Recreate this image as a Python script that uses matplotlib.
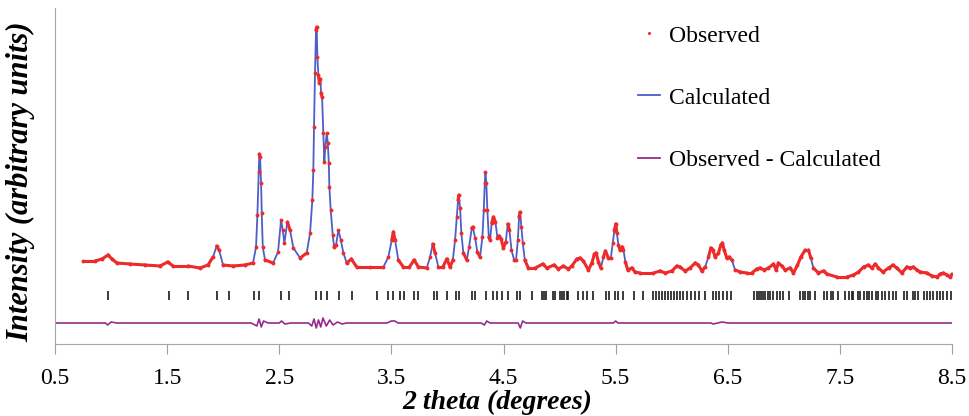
import numpy as np
import matplotlib.pyplot as plt
from matplotlib.collections import LineCollection
from matplotlib.lines import Line2D

plt.rcParams['font.family'] = ['Liberation Serif', 'DejaVu Serif']

# observed pattern, 2theta in degrees
obs_2theta = [
    0.752, 0.857, 0.919, 0.973, 1.008, 1.053, 1.169, 1.303, 1.437, 1.505,
    1.553, 1.686, 1.793, 1.865, 1.909, 1.942, 1.963, 1.999, 2.088, 2.195,
    2.266, 2.293, 2.305, 2.317, 2.322, 2.329, 2.338, 2.344, 2.353, 2.373,
    2.445, 2.489, 2.516, 2.531, 2.546, 2.572, 2.596, 2.626, 2.686, 2.745,
    2.775, 2.795, 2.804, 2.810, 2.819, 2.828, 2.834, 2.840, 2.849, 2.858,
    2.867, 2.873, 2.882, 2.893, 2.902, 2.911, 2.924, 2.933, 2.942, 2.947,
    2.959, 2.977, 2.989, 3.007, 3.027, 3.049, 3.072, 3.102, 3.143, 3.191,
    3.310, 3.429, 3.473, 3.504, 3.518, 3.533, 3.562, 3.607, 3.661, 3.703,
    3.741, 3.816, 3.845, 3.869, 3.890, 3.919, 3.959, 3.994, 4.024, 4.048,
    4.068, 4.083, 4.095, 4.101, 4.113, 4.124, 4.142, 4.173, 4.193, 4.217,
    4.226, 4.247, 4.267, 4.291, 4.312, 4.324, 4.333, 4.339, 4.347, 4.356,
    4.369, 4.380, 4.395, 4.410, 4.428, 4.446, 4.461, 4.479, 4.499, 4.520,
    4.538, 4.553, 4.571, 4.595, 4.612, 4.628, 4.639, 4.648, 4.660, 4.672,
    4.690, 4.722, 4.782, 4.851, 4.886, 4.951, 4.990, 5.034, 5.079, 5.109,
    5.154, 5.183, 5.213, 5.257, 5.288, 5.311, 5.326, 5.347, 5.368, 5.391,
    5.409, 5.436, 5.457, 5.475, 5.489, 5.502, 5.511, 5.525, 5.540, 5.558,
    5.570, 5.587, 5.609, 5.644, 5.674, 5.719, 5.837, 5.897, 5.942, 6.001,
    6.046, 6.075, 6.120, 6.164, 6.209, 6.239, 6.269, 6.298, 6.328, 6.349,
    6.367, 6.388, 6.417, 6.438, 6.453, 6.468, 6.492, 6.515, 6.536, 6.566,
    6.611, 6.670, 6.715, 6.759, 6.789, 6.825, 6.863, 6.908, 6.932, 6.952,
    6.982, 7.012, 7.057, 7.086, 7.122, 7.152, 7.190, 7.220, 7.241, 7.264,
    7.309, 7.354, 7.384, 7.473, 7.562, 7.621, 7.666, 7.711, 7.755, 7.786,
    7.815, 7.844, 7.884, 7.934, 7.973, 8.008, 8.053, 8.097, 8.127, 8.156,
    8.187, 8.216, 8.276, 8.321, 8.365, 8.395, 8.424, 8.454, 8.484, 8.500,
]
obs_intensity = [
    83, 83, 85, 89, 85, 81, 80, 79, 78, 82,
    78, 78, 76, 79, 87, 98, 94, 79, 78, 79,
    81, 97, 129, 172, 190, 187, 161, 131, 97, 84,
    81, 92, 124, 114, 101, 122, 114, 96, 86, 91,
    111, 144, 174, 217, 271, 314, 317, 287, 269, 261,
    265, 251, 247, 211, 182, 197, 211, 201, 181, 157,
    134, 109, 97, 99, 114, 104, 91, 81, 85, 77,
    77, 77, 87, 104, 112, 104, 84, 77, 77, 84,
    77, 76, 87, 100, 91, 77, 77, 85, 77, 84,
    104, 127, 144, 149, 136, 111, 91, 84, 97, 116,
    117, 106, 92, 87, 107, 134, 161, 172, 161, 134,
    107, 104, 121, 127, 122, 106, 108, 105, 96, 102,
    120, 114, 94, 84, 84, 104, 127, 132, 117, 101,
    84, 76, 76, 80, 76, 79, 75, 78, 75, 78,
    85, 86, 83, 74, 81, 90, 91, 82, 76, 87,
    93, 86, 86, 101, 114, 120, 111, 99, 94, 97,
    94, 82, 74, 76, 72, 71, 71, 73, 71, 73,
    78, 77, 73, 76, 81, 79, 73, 77, 87, 96,
    94, 87, 91, 99, 101, 94, 86, 87, 84, 74,
    72, 71, 71, 75, 76, 74, 76, 80, 74, 81,
    78, 74, 76, 71, 79, 87, 94, 94, 86, 76,
    71, 73, 70, 67, 67, 69, 72, 77, 79, 76,
    80, 76, 72, 76, 79, 76, 71, 77, 76, 77,
    74, 72, 71, 68, 67, 70, 71, 69, 67, 70,
]
# calculated profile overlays the observed one within the line width
calc_intensity = obs_intensity

# observed - calculated
diff_2theta = [0.5, 0.95, 0.97, 1.00, 1.05, 2.25, 2.30, 2.32, 2.34, 2.36,
               2.40, 2.50, 2.52, 2.55, 2.60, 2.76, 2.79, 2.81, 2.83, 2.85,
               2.87, 2.89, 2.92, 2.95, 2.98, 3.02, 3.06, 3.10, 3.46, 3.50,
               3.53, 3.56, 4.30, 4.33, 4.35, 4.38, 4.63, 4.65, 4.67, 4.70,
               5.48, 5.50, 5.52, 6.35, 6.37, 6.45, 6.50, 8.50]
diff_intensity = [0, 0, -2, 1, 0, 0, -3, 4, -4, 2,
                  0, 0, 2, -1, 0, 0, -3, 4, -5, 3,
                  -4, 5, -3, 3, -2, 1, -1, 0, 0, 2,
                  2, 0, 0, -2, 2, 0, 0, -5, 2, 0,
                  0, 2, 0, 0, -1, 1, 0, 0]

# reflection positions
refl_2theta = [
    0.970, 1.520, 1.686, 1.945, 2.055, 2.275, 2.320, 2.513, 2.585, 2.828,
    2.870, 2.924, 3.036, 3.147, 3.375, 3.473, 3.518, 3.578, 3.616, 3.703,
    3.741, 3.881, 3.910, 4.000, 4.077, 4.107, 4.217, 4.247, 4.345, 4.405,
    4.440, 4.485, 4.544, 4.619, 4.648, 4.752, 4.847, 4.865, 4.880, 4.940,
    4.960, 5.005, 5.023, 5.041, 5.063, 5.079, 5.168, 5.207, 5.243, 5.302,
    5.415, 5.445, 5.496, 5.525, 5.570, 5.665, 5.748, 5.834, 5.861, 5.888,
    5.915, 5.942, 5.968, 5.995, 6.022, 6.049, 6.075, 6.100, 6.135, 6.171,
    6.209, 6.248, 6.298, 6.367, 6.397, 6.426, 6.456, 6.492, 6.530, 6.738,
    6.762, 6.780, 6.798, 6.816, 6.834, 6.863, 6.878, 6.908, 6.938, 6.967,
    6.997, 7.050, 7.146, 7.168, 7.190, 7.213, 7.235, 7.280, 7.354, 7.384,
    7.420, 7.443, 7.482, 7.547, 7.577, 7.607, 7.621, 7.666, 7.681, 7.717,
    7.741, 7.764, 7.785, 7.824, 7.844, 7.875, 7.904, 7.934, 7.978, 8.002,
    8.073, 8.103, 8.151, 8.172, 8.201, 8.246, 8.276, 8.305, 8.335, 8.365,
    8.395, 8.424, 8.454, 8.490,
]

x_ticks = [0.5, 1.5, 2.5, 3.5, 4.5, 5.5, 6.5, 7.5, 8.5]

red = '#ee2b2b'
blue = '#4d5fc8'
purple = '#962a8e'

fig = plt.figure(figsize=(9.69, 4.16), dpi=100)
ax = fig.add_axes([55 / 969, 72 / 416, 897 / 969, 336 / 416])

x = np.array(obs_2theta)
y = np.array(obs_intensity, dtype=float)

# calculated line, then dense red band on the flat parts, then the points
ax.plot(x, calc_intensity, color=blue, lw=1.3, zorder=3)
segs = np.stack([np.column_stack([x[:-1], y[:-1]]),
                 np.column_stack([x[1:], y[1:]])], axis=1)
flat = np.abs(np.diff(y)) <= 9
ax.add_collection(LineCollection(segs[flat], colors=red, linewidths=2.2,
                                 capstyle='round', zorder=3.5))
ax.plot(x, y, 'o', color=red, ms=2.8, mew=0, zorder=4)

ax.vlines(refl_2theta, 44, 53, color='#1a1a1a', lw=1.2, zorder=2)
ax.plot(diff_2theta, np.array(diff_intensity) + 21, color=purple, lw=1.2, zorder=2)

ax.set_xlim(0.5, 8.5)
ax.set_ylim(0, 336)
ax.set_xticks(x_ticks)
ax.set_xticklabels([str(t) for t in x_ticks])
ax.set_yticks([])
ax.tick_params(axis='x', length=7, color='#a0a0a0', labelsize=17, pad=10)
for s in ['top', 'right']:
    ax.spines[s].set_visible(False)
for s in ['left', 'bottom']:
    ax.spines[s].set_color('#a6a6a6')

fig.text(497 / 969, 1 - 402 / 416, '2 theta (degrees)', ha='center', va='center',
         fontsize=20, style='italic', weight='bold')
fig.text(21 / 969, 1 - 182 / 416, 'Intensity (arbitrary units)', rotation=90,
         ha='center', va='center', fontsize=22, style='italic', weight='bold')

handles = [Line2D([], [], marker='o', ls='none', color=red, ms=2.2, mew=0),
           Line2D([], [], color=blue, lw=1.3),
           Line2D([], [], color=purple, lw=1.3)]
ax.legend(handles, ['Observed', 'Calculated', 'Observed - Calculated'],
          loc='upper left', bbox_to_anchor=(638 / 969, 1 - 25 / 416),
          bbox_transform=fig.transFigure, frameon=False, fontsize=17,
          handlelength=0.95, handletextpad=0.35, labelspacing=1.72,
          borderpad=0, borderaxespad=0, numpoints=1)

fig.savefig('out.png', dpi=100)
